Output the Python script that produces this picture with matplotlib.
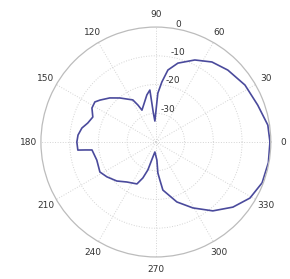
import numpy as np
import matplotlib
matplotlib.use("Agg")
import matplotlib.pyplot as plt

# Radiation pattern (angle in degrees, gain in dB)
angle_deg = [0, 8.6, 19.9, 32.6, 45.0, 55.0, 64.6, 74.4, 80.5, 84.3, 87.7, 92.7,
             95.0, 95.9, 96.6, 100.8, 113.6, 115.9, 118.7, 129.3, 136.3,
             143.1, 146.7, 152.0, 158.4, 164.4, 169.3, 174.9, 180.0, 185.9,
             186.4, 187.1, 197.0, 208.2, 215.5, 225.0, 234.0, 245.7, 250.1,
             254.0, 258.7, 264.3, 273.2, 273.7, 276.0, 278.3, 289.3, 299.3,
             309.6, 319.8, 329.2, 339.0, 349.6, 360]
gain_db = [-0.3, -0.6, -2.3, -3.2, -4.6, -6.0, -8.4, -11.5, -14.6, -19.0, -23.0, -32.7,
           -29.8, -26.4, -21.8, -23.3, -27.9, -25.7, -23.3, -20.2, -17.8,
           -15.7, -14.6, -14.8, -16.4, -15.4, -13.8, -12.8, -12.5, -12.7,
           -15.2, -17.6, -18.5, -17.9, -19.1, -20.8, -22.8, -24.0, -26.7,
           -29.9, -34.7, -36.5, -33.7, -29.2, -26.7, -23.1, -17.9, -13.7,
           -8.9, -4.9, -1.9, -0.4, -0.2, -0.3]

theta_ticks = np.arange(0, 360, 30)
r_ticks = [-30, -20, -10]
r_labels = ["-30", "-20", "-10", "0"]
r_min, r_max = -40, 0

fig = plt.figure(figsize=(2.9, 2.79), dpi=100)
ax = fig.add_axes([0.141, 0.079, 0.793, 0.824], projection="polar")

ax.set_ylim(r_min, r_max)
ax.set_xticks(np.deg2rad(theta_ticks))
ax.set_xticklabels([])
ax.set_yticks(r_ticks)
ax.set_yticklabels([])
ax.grid(True, linestyle=":", linewidth=0.7, color="#d4d4d4")
ax.spines["polar"].set_color("#bcbcbc")
ax.spines["polar"].set_linewidth(0.9)

ax.plot(np.deg2rad(angle_deg), gain_db, color="#4a4a9c", linewidth=1.2)

# angle labels outside the circle
for t in theta_ticks:
    ax.text(np.deg2rad(t), 4.2, str(t), ha="center", va="center",
            fontsize=6.5, color="#333333")

# radial labels near 80 degrees
for r, lab in zip(r_ticks + [0], r_labels):
    ax.text(np.deg2rad(80), r, lab, ha="left", va="bottom",
            fontsize=6.5, color="#333333")

fig.savefig("out.png", dpi=100)
